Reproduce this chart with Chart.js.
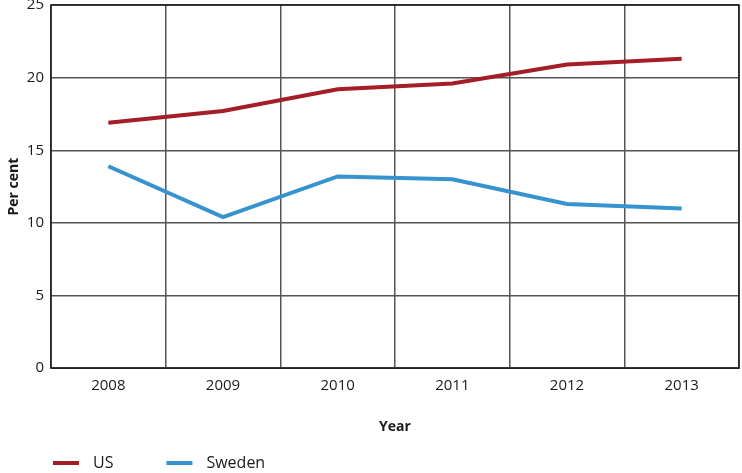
<!DOCTYPE html>
<html>
<head>
<meta charset="utf-8">
<script src="https://cdn.jsdelivr.net/npm/chart.js@4"></script>
<style>
  html, body { margin: 0; padding: 0; background: #fff; }
  #wrap { width: 742px; height: 473px; }
</style>
</head>
<body>
<div id="wrap"><canvas id="chart" width="742" height="473"></canvas></div>
<script>
// values
var years = ['2008', '2009', '2010', '2011', '2012', '2013'];
var usValues = [16.9, 17.7, 19.2, 19.6, 20.9, 21.3];
var swedenValues = [13.9, 10.4, 13.2, 13.0, 11.3, 11.0];
var yTicks = [0, 5, 10, 15, 20, 25];

var usColor = '#a51d26';
var swedenColor = '#3793cf';

// legend marker: short thick line with blank space, so text sits where it should
function legendMark(color) {
    var c = document.createElement('canvas');
    c.width = 82;
    c.height = 6;
    var g = c.getContext('2d');
    g.fillStyle = color;
    g.fillRect(50, 1, 26, 4);
    return c;
}

// black frame round the plot area
var frame = {
    id: 'frame',
    beforeDatasetsDraw: function(chart) {
        var a = chart.chartArea;
        var ctx = chart.ctx;
        ctx.save();
        ctx.strokeStyle = '#1a1a1a';
        ctx.lineWidth = 1.5;
        ctx.strokeRect(a.left, a.top, a.right - a.left, a.bottom - a.top);
        ctx.restore();
    }
};

new Chart(document.getElementById('chart'), {
    type: 'line',
    data: {
        labels: years,
        datasets: [{
            label: 'US',
            data: usValues,
            borderColor: usColor,
            backgroundColor: usColor,
            borderWidth: 4,
            pointRadius: 0,
            pointHoverRadius: 0,
            pointStyle: legendMark(usColor),
            tension: 0
        }, {
            label: 'Sweden',
            data: swedenValues,
            borderColor: swedenColor,
            backgroundColor: swedenColor,
            borderWidth: 4,
            pointRadius: 0,
            pointHoverRadius: 0,
            pointStyle: legendMark(swedenColor),
            tension: 0
        }]
    },
    options: {
        responsive: false,
        animation: false,
        events: [],
        layout: { padding: { top: 5, right: 3, left: 0, bottom: -8 } },
        plugins: {
            tooltip: { enabled: false },
            legend: {
                position: 'bottom',
                align: 'start',
                labels: {
                    usePointStyle: true,
                    pointStyleWidth: 82,
                    padding: 3,
                    color: '#1a1a1a',
                    font: { family: 'Open Sans', size: 16 }
                }
            }
        },
        scales: {
            x: {
                offset: true,
                grid: { offset: true, color: '#555', lineWidth: 1.5, drawTicks: false },
                border: { display: false },
                ticks: { color: '#1a1a1a', padding: 9, font: { family: 'Open Sans', size: 15 } },
                title: {
                    display: true,
                    text: 'Year',
                    color: '#1a1a1a',
                    font: { family: 'Open Sans', size: 14, weight: 'bold' },
                    padding: { top: 14, bottom: 17 }
                }
            },
            y: {
                min: 0,
                max: 25,
                afterBuildTicks: function(scale) {
                    scale.ticks = yTicks.map(function(v) { return { value: v }; });
                },
                afterFit: function(scale) {
                    scale.width = 51;
                    scale.paddingTop = 0;
                    scale.paddingBottom = 0;
                },
                grid: { color: '#555', lineWidth: 1.5, drawTicks: false },
                border: { display: false },
                ticks: { color: '#1a1a1a', padding: 7, font: { family: 'Open Sans', size: 15 } },
                title: {
                    display: true,
                    text: 'Per cent',
                    color: '#1a1a1a',
                    font: { family: 'Open Sans', size: 14, weight: 'bold' },
                    padding: { top: 6, bottom: 0 }
                }
            }
        }
    },
    plugins: [frame]
});
</script>
</body>
</html>
